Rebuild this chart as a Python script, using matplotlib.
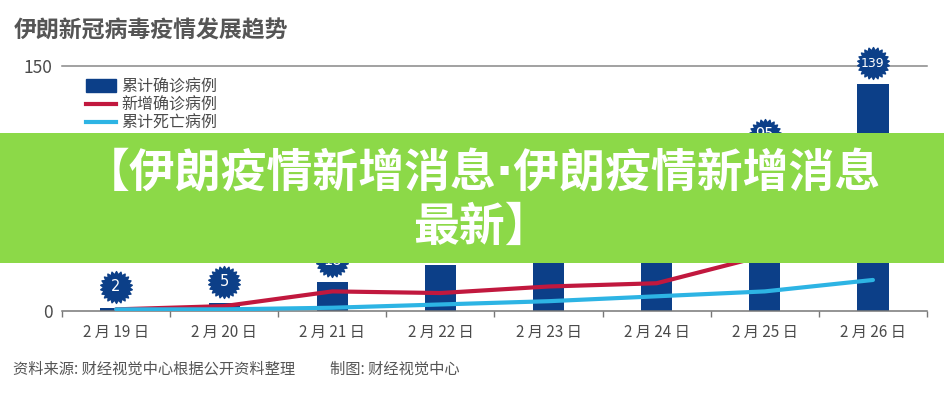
import matplotlib
matplotlib.use('Agg')
import matplotlib.pyplot as plt
from matplotlib.path import Path
from matplotlib.patches import Rectangle, Patch
from matplotlib.lines import Line2D
from matplotlib.transforms import ScaledTranslation

plt.rcParams['font.family'] = ['Noto Sans CJK SC', 'DejaVu Sans']

# dati
giorni = ['2 月 19 日', '2 月 20 日', '2 月 21 日', '2 月 22 日',
          '2 月 23 日', '2 月 24 日', '2 月 25 日', '2 月 26 日']
leiji_quezhen = [2, 5, 18, 28, 43, 61, 95, 139]      # 累计确诊病例
xinzeng_quezhen = [1, 3, 12, 11, 15, 17, 34, 44]     # 新增确诊病例
leiji_siwang = [1, 1, 2, 4, 6, 9, 12, 19]            # 累计死亡病例

BLU = '#0c3f88'
ROSSO = '#c1183e'
CIANO = '#2db4e4'
GRIGIO = '#4a4a4a'
VERDE = '#8cd948'

fig = plt.figure(figsize=(9.45, 4), dpi=100)
ax = fig.add_axes([62 / 945, 89 / 400, 865 / 945, 245 / 400])

x = list(range(len(giorni)))
ax.bar(x, leiji_quezhen, width=0.29, color=BLU, zorder=2)
ax.plot(x, xinzeng_quezhen, color=ROSSO, lw=3, solid_capstyle='round',
        solid_joinstyle='round', zorder=3)
ax.plot(x, leiji_siwang, color=CIANO, lw=3, solid_capstyle='round',
        solid_joinstyle='round', zorder=4)

# bollini "virus" sopra le barre
bollino = Path.unit_regular_star(22, innerCircle=0.8)
sposta = ax.transData + ScaledTranslation(0, 0.21, fig.dpi_scale_trans)
for xi, v in zip(x, leiji_quezhen):
    ax.plot(xi, v, marker=bollino, ms=23, color=BLU, mec=BLU,
            transform=sposta, clip_on=False, zorder=6)
    ax.annotate(str(v), (xi, v), xytext=(0, 15), textcoords='offset points',
                ha='center', va='center', color='white',
                fontsize=10.5 if v < 100 else 9, family='DejaVu Sans',
                annotation_clip=False, zorder=7)

ax.set_xlim(-0.5, 7.5)
ax.set_ylim(0, 150)
ax.set_yticks([0, 150])
ax.set_yticklabels(['0', '150'], fontsize=12.5, color=GRIGIO)
ax.set_xticks(x)
ax.set_xticklabels(giorni, fontsize=11, color=GRIGIO)
ax.set_xticks([i - 0.5 for i in range(len(giorni) + 1)], minor=True)
ax.tick_params(axis='x', which='major', length=0, pad=9)
ax.tick_params(axis='x', which='minor', length=4, width=1, color='#777777', direction='out')
ax.tick_params(axis='y', length=0, pad=7)
for s in ['top', 'right', 'left']:
    ax.spines[s].set_visible(False)
ax.spines['bottom'].set_color('#777777')
ax.spines['bottom'].set_linewidth(1.1)
ax.axhline(150, color='#888888', lw=1.1, zorder=1, clip_on=False)

maniglie = [Patch(facecolor=BLU, edgecolor=BLU),
            Line2D([], [], color=ROSSO, lw=3),
            Line2D([], [], color=CIANO, lw=3)]
fig.legend(maniglie, ['累计确诊病例', '新增确诊病例', '累计死亡病例'],
           loc='upper left', bbox_to_anchor=(86 / 945, 1 - 78 / 400),
           frameon=False, fontsize=11.5, handlelength=1.9, handleheight=0.85,
           handletextpad=0.3, labelspacing=0.1, borderpad=0, borderaxespad=0,
           labelcolor=GRIGIO)

fig.text(14 / 945, 1 - 31 / 400, '伊朗新冠病毒疫情发展趋势', fontsize=16.5,
         fontweight='bold', color='#555555', va='center')
fig.text(13 / 945, 1 - 369 / 400, '资料来源: 财经视觉中心根据公开资料整理',
         fontsize=11, color='#555555', va='center')
fig.text(330 / 945, 1 - 369 / 400, '制图: 财经视觉中心',
         fontsize=11, color='#555555', va='center')

# banda verde
fig.add_artist(Rectangle((0, 1 - 263 / 400), 1, 130 / 400, transform=fig.transFigure,
                         facecolor=VERDE, edgecolor='none', zorder=5))
fig.text(0.51, 1 - 201 / 400, '【伊朗疫情新增消息·伊朗疫情新增消息\n最新】',
         ha='center', va='center', multialignment='center', fontsize=33,
         family=['DejaVu Sans', 'Noto Sans CJK SC'],
         fontweight='heavy', color='white', linespacing=1.28, zorder=6)

fig.savefig('out.png', dpi=100)
